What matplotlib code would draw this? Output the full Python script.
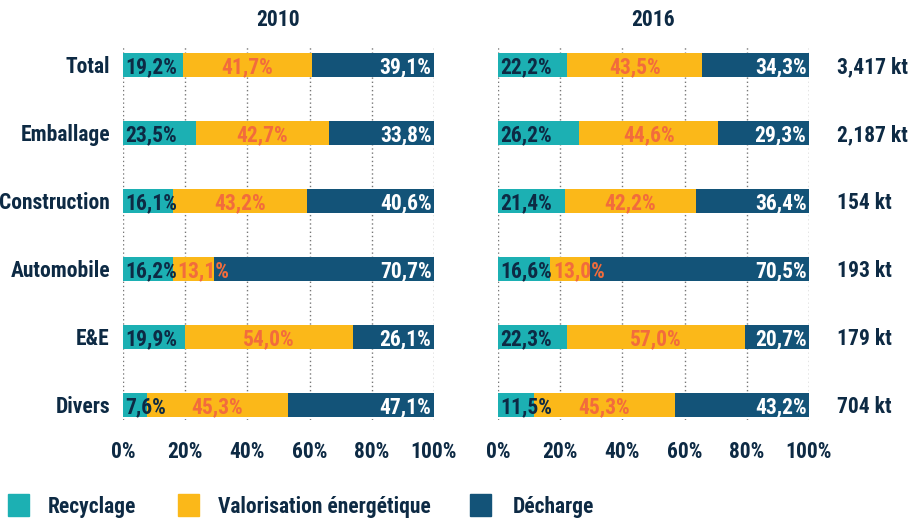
import matplotlib.pyplot as plt
from matplotlib.patches import Rectangle
import numpy as np

plt.rcParams['font.family'] = ['Liberation Sans Narrow', 'Roboto Condensed', 'DejaVu Sans']
plt.rcParams['font.weight'] = 'bold'

categories = ["Total", "Emballage", "Construction", "Automobile", "E&E", "Divers"]
years = ["2010", "2016"]

recyclage_2010 = [19.2, 23.5, 16.1, 16.2, 19.9, 7.6]
valorisation_2010 = [41.7, 42.7, 43.2, 13.1, 54.0, 45.3]
decharge_2010 = [39.1, 33.8, 40.6, 70.7, 26.1, 47.1]

recyclage_2016 = [22.2, 26.2, 21.4, 16.6, 22.3, 11.5]
valorisation_2016 = [43.5, 44.6, 42.2, 13.0, 57.0, 45.3]
decharge_2016 = [34.3, 29.3, 36.4, 70.5, 20.7, 43.2]

tonnages = ["3,417 kt", "2,187 kt", "154 kt", "193 kt", "179 kt", "704 kt"]
ticks = [0, 20, 40, 60, 80, 100]
legend_labels = ["Recyclage", "Valorisation énergétique", "Décharge"]

c_rec = "#1cb0b3"
c_val = "#fbb819"
c_dec = "#135378"
c_txt = "#0d2a44"
c_orange = "#f26c3c"

def fmt(v):
    return f"{v:.1f}".replace(".", ",") + "%"

fig = plt.figure(figsize=(9.22, 5.23), dpi=100)
ax1 = fig.add_axes([123/922, 1 - 420/523, 311/922, 375/523])
ax2 = fig.add_axes([498/922, 1 - 420/523, 311/922, 375/523])

y = np.arange(len(categories))
h = 0.34
fs = 15.5

for ax, year, rec, val, dec in [(ax1, years[0], recyclage_2010, valorisation_2010, decharge_2010),
                                 (ax2, years[1], recyclage_2016, valorisation_2016, decharge_2016)]:
    rec = np.array(rec); val = np.array(val); dec = np.array(dec)
    ax.barh(y, rec, height=h, color=c_rec, zorder=2)
    ax.barh(y, val, left=rec, height=h, color=c_val, zorder=2)
    ax.barh(y, dec, left=rec + val, height=h, color=c_dec, zorder=2)
    for i in range(len(y)):
        ax.text(0.6, y[i] + 0.03, fmt(rec[i]), ha='left', va='center', color=c_txt, fontsize=fs, zorder=3)
        if val[i] < 20:
            # narrow segment: label starts at the segment and runs over the next one
            ax.text(rec[i] + 1.2, y[i] + 0.03, fmt(val[i]), ha='left', va='center', color=c_orange, fontsize=fs, zorder=3)
        else:
            ax.text(rec[i] + val[i] / 2, y[i] + 0.03, fmt(val[i]), ha='center', va='center', color=c_orange, fontsize=fs, zorder=3)
        ax.text(99.2, y[i] + 0.03, fmt(dec[i]), ha='right', va='center', color='white', fontsize=fs, zorder=3)
    ax.set_xlim(0, 100)
    ax.set_ylim(5 + 15/68, -20/68)
    ax.set_xticks(ticks)
    ax.set_xticklabels([f"{t}%" for t in ticks], fontsize=fs, color=c_txt)
    ax.tick_params(axis='x', length=0, pad=15)
    ax.set_yticks([])
    ax.grid(axis='x', linestyle=(0, (1, 2)), color='#777777', linewidth=1, zorder=0)
    for s in ax.spines.values():
        s.set_visible(False)
    ax.set_title(year, fontsize=fs, color=c_txt, fontweight='bold', pad=14)

for i, c in enumerate(categories):
    ax1.text(-4.2, y[i] + 0.03, c, ha='right', va='center', fontsize=fs, color=c_txt)
    ax2.text(109, y[i] + 0.03, tonnages[i], ha='left', va='center', fontsize=fs, color=c_txt)

# legend
for col, lab, xs, xt in zip([c_rec, c_val, c_dec], legend_labels, [8, 178, 470], [48, 218, 513]):
    fig.patches.append(Rectangle((xs/922, 1 - 516/523), 21/922, 22/523, transform=fig.transFigure,
                                 color=col, figure=fig))
    fig.text(xt/922, 1 - 507/523, lab, ha='left', va='center', fontsize=fs, color=c_txt)

fig.savefig("out.png", dpi=100)
